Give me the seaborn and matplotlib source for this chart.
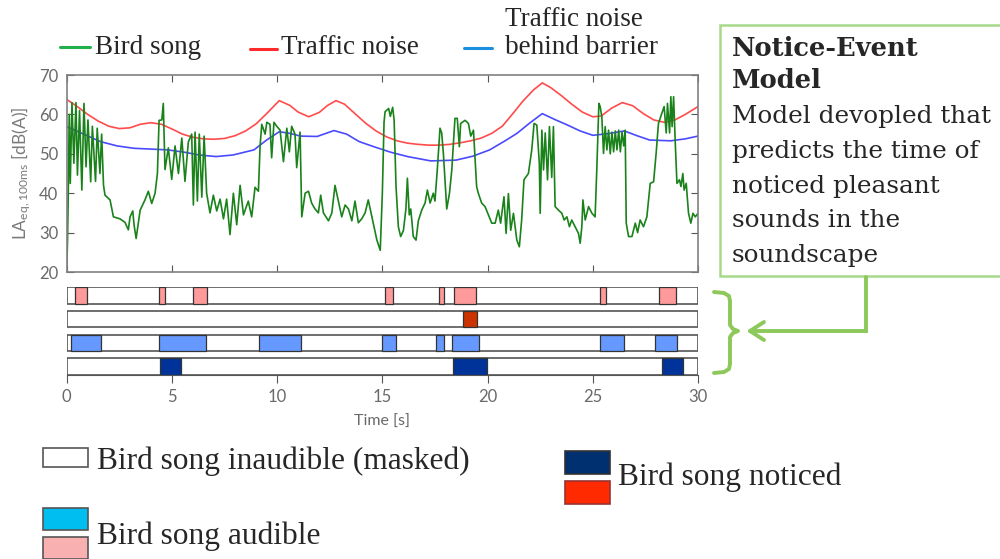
import pandas as pd
import seaborn as sns
import matplotlib.pyplot as plt
from matplotlib.lines import Line2D
from matplotlib.patches import Rectangle

# Traffic noise level over time
traffic_t = [0.0, 0.5, 1.0, 1.5, 2.0, 2.5, 3.0, 3.5, 4.0, 4.5, 5.0, 5.5, 6.0, 6.5, 7.0,
             7.5, 8.0, 8.5, 9.0, 9.5, 10.1, 10.6, 11.0, 11.5, 12.0, 12.4, 12.8, 13.2,
             13.7, 14.2, 14.7, 15.2, 15.7, 16.2, 16.7, 17.2, 17.7, 18.2, 18.7, 19.2,
             19.7, 20.2, 20.7, 21.2, 21.7, 22.2, 22.6, 23.0, 23.5, 24.0, 24.5, 25.0,
             25.4, 25.9, 26.4, 26.9, 27.4, 27.9, 28.4, 28.9, 29.4, 30.0]
traffic_db = [63.8, 62.0, 60.0, 58.3, 57.0, 56.4, 56.6, 57.5, 57.9, 57.5, 56.3, 55.0,
              54.2, 53.8, 53.7, 53.9, 54.6, 55.8, 57.6, 60.2, 63.5, 62.3, 60.6, 59.4,
              60.5, 62.3, 63.5, 62.6, 60.2, 57.8, 55.8, 54.3, 53.3, 52.7, 52.4, 52.2,
              52.2, 52.4, 52.8, 53.3, 54.0, 55.2, 57.0, 60.2, 63.5, 66.3, 68.0, 66.8,
              64.8, 62.6, 60.6, 59.4, 59.6, 61.6, 63.0, 62.2, 60.2, 58.6, 58.0, 58.6,
              60.0, 62.0]

# Traffic noise behind the barrier
barrier_t = [0.0, 0.8, 1.6, 2.4, 3.2, 4.0, 4.8, 5.6, 6.3, 7.1, 7.9, 8.9, 9.5, 10.1,
             10.6, 11.1, 11.9, 12.7, 13.3, 13.9, 14.6, 15.4, 16.2, 17.3, 18.5, 19.3,
             20.1, 20.8, 21.4, 22.0, 22.6, 23.2, 23.8, 24.4, 25.0, 25.7, 26.5, 27.1,
             27.7, 28.7, 29.4, 30.0]
barrier_db = [56.9, 55.0, 53.1, 52.0, 51.4, 51.2, 51.0, 50.4, 49.7, 49.3, 49.7, 51.0,
              53.5, 55.6, 55.2, 54.5, 54.4, 55.9, 55.0, 53.1, 51.8, 50.4, 49.3, 48.2,
              48.4, 49.4, 51.0, 53.2, 55.2, 57.8, 60.2, 58.7, 57.3, 55.8, 54.7, 55.1,
              55.8, 54.6, 53.5, 53.3, 53.8, 54.5]

# Bird song level
bird_t = [0.00, 0.04, 0.08, 0.12, 0.17, 0.25, 0.34, 0.44, 0.51, 0.61, 0.72, 0.82, 0.92,
          1.01, 1.14, 1.22, 1.37, 1.45, 1.58, 1.66, 1.75, 1.82, 2.06, 2.22, 2.53, 2.77,
          2.93, 3.01, 3.14, 3.20, 3.30, 3.49, 3.72, 3.88, 4.04, 4.20, 4.31, 4.39, 4.52,
          4.59, 4.67, 4.83, 4.99, 5.15, 5.31, 5.47, 5.62, 5.78, 5.94, 6.02, 6.10, 6.21,
          6.30, 6.42, 6.53, 6.65, 6.81, 6.97, 7.13, 7.29, 7.45, 7.60, 7.76, 7.92, 8.08,
          8.24, 8.40, 8.63, 8.79, 8.95, 9.11, 9.19, 9.27, 9.43, 9.51, 9.66, 9.74, 9.85,
          9.98, 10.14, 10.30, 10.46, 10.58, 10.69, 10.85, 10.93, 11.09, 11.17, 11.33,
          11.49, 11.64, 11.80, 11.96, 12.07, 12.20, 12.44, 12.60, 12.75, 12.91, 13.07,
          13.23, 13.39, 13.55, 13.70, 13.86, 14.02, 14.18, 14.33, 14.57, 14.74, 14.90,
          15.00, 15.08, 15.13, 15.30, 15.38, 15.49, 15.56, 15.65, 15.76, 15.87, 16.00,
          16.12, 16.19, 16.28, 16.35, 16.47, 16.60, 16.71, 16.87, 17.03, 17.14, 17.27,
          17.42, 17.50, 17.61, 17.74, 17.82, 17.90, 18.06, 18.19, 18.30, 18.45, 18.56,
          18.66, 18.72, 18.93, 19.09, 19.20, 19.33, 19.48, 19.56, 19.72, 19.88, 20.04,
          20.20, 20.36, 20.51, 20.62, 20.78, 20.88, 20.99, 21.10, 21.23, 21.39, 21.51,
          21.62, 21.73, 21.94, 22.10, 22.21, 22.34, 22.46, 22.50, 22.58, 22.66, 22.74,
          22.85, 22.94, 23.05, 23.13, 23.21, 23.37, 23.53, 23.64, 23.77, 23.89, 24.00,
          24.16, 24.32, 24.40, 24.48, 24.53, 24.64, 24.80, 24.96, 25.11, 25.19, 25.29,
          25.35, 25.43, 25.51, 25.59, 25.67, 25.75, 25.83, 25.91, 25.99, 26.07, 26.15,
          26.23, 26.31, 26.39, 26.47, 26.54, 26.59, 26.70, 26.86, 27.02, 27.13, 27.25,
          27.41, 27.57, 27.73, 27.89, 28.01, 28.12, 28.28, 28.39, 28.49, 28.55, 28.65,
          28.71, 28.77, 28.84, 28.92, 29.00, 29.12, 29.19, 29.28, 29.34, 29.44, 29.55,
          29.66, 29.76, 29.87, 30.00]
bird_db = [20.5, 28.0, 42.0, 60.0, 42.5, 63.0, 47.6, 63.0, 44.6, 61.0, 40.8, 62.8, 46.7,
           58.6, 42.9, 57.0, 43.0, 56.5, 45.0, 55.0, 42.0, 39.5, 38.3, 34.0, 33.5, 32.6,
           30.7, 34.0, 35.5, 32.0, 28.5, 35.7, 38.3, 40.5, 37.4, 40.0, 45.0, 58.5, 58.6,
           62.8, 46.0, 51.5, 43.5, 52.0, 45.0, 54.0, 43.0, 53.0, 55.0, 37.0, 55.5, 38.0,
           55.0, 39.0, 54.5, 40.0, 35.0, 39.5, 35.5, 38.5, 33.5, 38.5, 29.5, 40.0, 32.0,
           42.0, 34.5, 38.0, 34.0, 41.5, 40.5, 52.0, 57.5, 55.0, 58.0, 57.5, 49.0, 58.0,
           57.0, 56.0, 48.0, 56.5, 50.5, 57.0, 55.0, 46.5, 55.5, 34.0, 40.0,
           40.5, 37.5, 36.0, 35.0, 39.5, 35.0, 33.0, 35.0, 42.0, 38.0, 34.0,
           37.0, 36.0, 33.0, 38.0, 32.5, 33.5, 35.0, 38.3, 32.4, 28.1, 25.5,
           40.0, 58.0, 60.7, 61.5, 59.5, 61.8, 58.5, 41.7, 31.5, 29.0, 30.5,
           36.0, 43.8, 34.5, 36.0, 29.0, 28.1, 33.0, 35.7, 37.5, 40.8, 37.5,
           40.0, 38.0, 45.9, 56.5, 55.3, 50.1, 36.0, 40.0, 45.9, 59.0, 59.0,
           51.8, 57.7, 58.5, 57.7, 54.5, 56.0, 41.7, 40.0, 37.5, 36.6, 34.5,
           32.4, 32.4, 35.7, 32.4, 39.1, 29.8, 39.9, 30.6, 34.9, 28.1, 26.4,
           33.2, 43.4, 45.0, 51.0, 57.7, 57.3, 47.6, 34.9, 56.0, 45.9, 55.3,
           43.4, 56.9, 44.0, 56.9, 36.6, 35.7, 34.9, 33.2, 34.0, 31.5, 33.2,
           31.5, 29.8, 27.3, 31.5, 38.3, 33.2, 36.6, 34.9, 34.0, 45.9, 62.8,
           62.0, 59.4, 50.1, 56.9, 51.0, 56.0, 50.0, 55.5, 50.5, 55.8, 51.0,
           56.0, 50.5, 55.5, 52.0, 56.0, 32.4, 29.0, 29.0, 32.4, 30.0, 33.2,
           31.5, 34.0, 42.5, 42.9, 50.1, 57.7, 60.3, 62.0, 55.3, 62.8, 55.3,
           64.5, 56.9, 64.5, 52.7, 42.5, 43.4, 41.7, 45.0, 40.8, 42.5, 34.9,
           32.4, 34.9, 34.0, 34.9]

# Event strips (start, end) in seconds, top row first
audible_pink = [(0.40, 0.98), (4.40, 4.66), (6.00, 6.65), (15.13, 15.49),
                (17.71, 17.93), (18.42, 19.45), (25.35, 25.63), (28.15, 28.94)]
noticed_red = [(18.82, 19.52)]
audible_blue = [(0.21, 1.62), (4.40, 6.61), (9.16, 11.12), (14.99, 15.64),
                (17.55, 17.93), (18.33, 19.61), (25.32, 26.49), (27.96, 28.99)]
noticed_navy = [(4.45, 5.45), (18.38, 19.96), (28.28, 29.31)]
strip_rows = [audible_pink, noticed_red, audible_blue, noticed_navy]
strip_colors = ['#ff9a9a', '#cc3300', '#6699ff', '#003399']

x_ticks = [0, 5, 10, 15, 20, 25, 30]
y_ticks = [20, 30, 40, 50, 60, 70]

box_title = ['Notice-Event', 'Model']
box_lines = ['Model devopled that', 'predicts the time of', 'noticed pleasant',
             'sounds in the', 'soundscape']

sns.set_style("white")
plt.rcParams['font.family'] = ['Lato', 'DejaVu Sans']
plt.rcParams['mathtext.default'] = 'regular'

df = pd.concat([
    pd.DataFrame({'time': bird_t, 'level': bird_db, 'series': 'Bird song'}),
    pd.DataFrame({'time': traffic_t, 'level': traffic_db, 'series': 'Traffic noise'}),
    pd.DataFrame({'time': barrier_t, 'level': barrier_db, 'series': 'Barrier'}),
])
palette = {'Bird song': '#1a821a', 'Traffic noise': '#ff4b4b', 'Barrier': '#4a4aff'}


def fx(px):
    return px / 1000


def fy(py):
    return 1 - py / 559


fig = plt.figure(figsize=(10, 5.59), dpi=100)
ax = fig.add_axes([0.0667, 0.5134, 0.6313, 0.3524])
sns.lineplot(data=df, x='time', y='level', hue='series', palette=palette,
             estimator=None, linewidth=1.2, legend=False, ax=ax,
             hue_order=['Traffic noise', 'Barrier', 'Bird song'])
ax.set_xlim(0, 30)
ax.set_ylim(20, 70)
ax.set_xticks(x_ticks)
ax.set_yticks(y_ticks)
ax.tick_params(axis='x', direction='in', top=True, bottom=True, labelbottom=False,
               length=5, color='#555555')
ax.tick_params(axis='y', direction='in', left=True, right=True, length=5,
               color='#555555', labelsize=12, labelcolor='#6a6a6a', pad=6)
ax.set_xlabel('')
ax.set_ylabel(r'LA$_{eq,100ms}$ [dB(A)]', fontsize=12.5, color='#7a7a7a')
ax.yaxis.set_label_coords(-0.054, 0.5)
for s in ax.spines.values():
    s.set_color('#808080')
    s.set_linewidth(1.2)

# event strips
ax2 = fig.add_axes([0.0667, 0.3292, 0.6313, 0.1574])
for i, (segs, col) in enumerate(zip(strip_rows, strip_colors)):
    ax2.barh(i, 30, left=0, height=0.7, color='white', edgecolor='#555555', linewidth=1.2)
    starts = [a for a, b in segs]
    widths = [b - a for a, b in segs]
    ax2.barh([i] * len(segs), widths, left=starts, height=0.7, color=col,
             edgecolor='#333333', linewidth=0.9)
ax2.set_xlim(0, 30)
ax2.set_ylim(3.35, -0.35)
ax2.set_yticks([])
ax2.set_xticks(x_ticks)
ax2.tick_params(axis='x', direction='out', bottom=True, length=6, color='#555555',
                labelsize=12, labelcolor='#6a6a6a', pad=4)
ax2.set_xlabel('Time [s]', fontsize=11.5, color='#6a6a6a', labelpad=7)
for side in ['top', 'left', 'right']:
    ax2.spines[side].set_visible(False)
ax2.spines['bottom'].set_color('#555555')
ax2.patch.set_alpha(0)

# top legend
serif = ['Liberation Serif', 'DejaVu Serif']
legend_items = [(60, 90, 95, 47, '#22b04b', 'Bird song'),
                (250, 277, 281, 49, '#ff2a2a', 'Traffic noise'),
                (464, 492, 505, 48, '#1a8fe0', 'behind barrier')]
for x0, x1, xt, y, col, label in legend_items:
    fig.add_artist(Line2D([fx(x0), fx(x1)], [fy(y), fy(y)], color=col, lw=2.2,
                          transform=fig.transFigure))
    fig.text(fx(xt), fy(47), label, family=serif, fontsize=19.5, va='center', ha='left')
fig.text(fx(505), fy(19), 'Traffic noise', family=serif, fontsize=19.5,
         va='center', ha='left')

# model box
green = '#8cc85a'
fig.add_artist(Rectangle((0.72, fy(276)), 0.4, 251 / 559, transform=fig.transFigure,
                         facecolor='white', edgecolor='#a6d98a', lw=1.8))
for k, line in enumerate(box_title):
    fig.text(fx(732), fy(49 + 32 * k), line, family=['DejaVu Serif'], fontweight='bold',
             fontsize=18.5, va='center', ha='left')
for k, line in enumerate(box_lines):
    fig.text(fx(732), fy(117 + 34.6 * k), line, family=['DejaVu Serif'], fontsize=17.8,
             va='center', ha='left')

# connector and bracket
fig.add_artist(Line2D([fx(866), fx(866), fx(750)], [fy(277), fy(331), fy(331)],
                      color=green, lw=2.8, transform=fig.transFigure,
                      solid_joinstyle='miter'))
fig.add_artist(Line2D([fx(764), fx(750), fx(764)], [fy(322), fy(331), fy(340)],
                      color=green, lw=2.8, transform=fig.transFigure,
                      solid_capstyle='round'))
bx = [714, 724, 729, 730, 730, 733, 738, 733, 730, 730, 729, 724, 714]
by = [292, 293, 296, 301, 325, 329, 331, 333, 337, 364, 369, 372, 373]
fig.add_artist(Line2D([fx(v) for v in bx], [fy(v) for v in by], color=green, lw=2.8,
                      transform=fig.transFigure, solid_capstyle='round'))


# bottom legend
def swatch(x, y, w, h, col, edge):
    fig.add_artist(Rectangle((fx(x), fy(y + h)), w / 1000, h / 559, facecolor=col,
                             edgecolor=edge, lw=1.2, transform=fig.transFigure))


swatch(43, 448, 45, 19, 'white', '#555555')
swatch(43, 508, 45, 22, '#00bff0', '#555555')
swatch(43, 537, 45, 22, '#f8b0b0', '#555555')
swatch(565, 451, 45, 23, '#003070', '#333333')
swatch(565, 481, 45, 23, '#ff2a00', '#993333')
fig.text(fx(97), fy(461), 'Bird song inaudible (masked)', family=serif, fontsize=22.6,
         va='center', ha='left')
fig.text(fx(97), fy(536), 'Bird song audible', family=serif, fontsize=22.6,
         va='center', ha='left')
fig.text(fx(618), fy(477), 'Bird song noticed', family=serif, fontsize=22.6,
         va='center', ha='left')

fig.savefig('out.png', dpi=100)
